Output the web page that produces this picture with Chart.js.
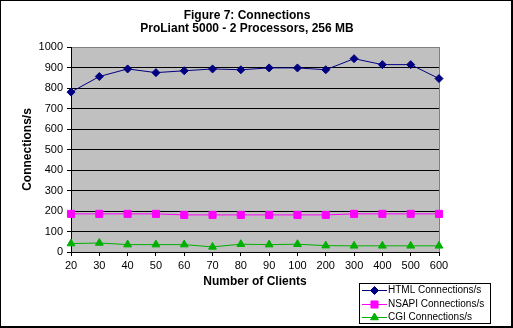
<!DOCTYPE html>
<html>
<head>
<meta charset="utf-8">
<script src="https://cdn.jsdelivr.net/npm/chart.js@4/dist/chart.umd.min.js"></script>
<style>
  html, body { margin: 0; padding: 0; background: #ffffff; }
  canvas { display: block; }
</style>
</head>
<body>
<canvas id="c" width="513" height="328"></canvas>
<script>
const titleLines = ['Figure 7: Connections', 'ProLiant 5000 - 2 Processors, 256 MB'];
const xTitle = 'Number of Clients';
const yTitle = 'Connections/s';
const categories = ['20','30','40','50','60','70','80','90','100','200','300','400','500','600'];
const htmlValues  = [780, 856, 893, 875, 884, 893, 889, 898, 898, 889, 943, 914, 914, 846];
const nsapiValues = [186, 186, 186, 186, 181, 181, 181, 181, 181, 181, 186, 186, 186, 186];
const cgiValues   = [41, 44, 36, 36, 36, 25, 38, 36, 38, 31, 30, 30, 30, 30];
const seriesNames = ['HTML Connections/s', 'NSAPI Connections/s', 'CGI Connections/s'];
const yMin = 0, yMax = 1000, yStep = 100;

const FONT = "'Liberation Sans', Arial, sans-serif";
Chart.defaults.font.family = FONT;
Chart.defaults.font.size = 11;
Chart.defaults.color = '#000000';

function drawMarker(ctx, style, x, y, r, color) {
  ctx.save();
  ctx.fillStyle = color;
  ctx.strokeStyle = color;
  ctx.lineWidth = 1;
  ctx.beginPath();
  if (style === 'rectRot') {
    ctx.moveTo(x, y - r); ctx.lineTo(x + r, y); ctx.lineTo(x, y + r); ctx.lineTo(x - r, y);
  } else if (style === 'rect') {
    const s = r * Math.SQRT1_2;
    ctx.rect(x - s, y - s, 2 * s, 2 * s);
  } else {
    ctx.moveTo(x, y - r); ctx.lineTo(x + r * 0.866, y + r * 0.5); ctx.lineTo(x - r * 0.866, y + r * 0.5);
  }
  ctx.closePath();
  ctx.fill();
  ctx.stroke();
  ctx.restore();
}

const framePlugin = {
  id: 'frame',
  beforeDraw(chart) {
    const {ctx, chartArea: a} = chart;
    ctx.save();
    ctx.fillStyle = '#ffffff';
    ctx.fillRect(0, 0, chart.width, chart.height);
    ctx.fillStyle = '#c0c0c0';
    ctx.fillRect(a.left, a.top, a.right - a.left, a.bottom - a.top);
    ctx.strokeStyle = '#808080';
    ctx.lineWidth = 1;
    ctx.strokeRect(Math.round(a.left) + 0.5, Math.round(a.top) + 0.5, Math.round(a.right - a.left), Math.round(a.bottom - a.top));
    ctx.restore();
  },
  afterDraw(chart) {
    const {ctx} = chart;
    const W = chart.width, H = chart.height;
    ctx.save();
    // outer border
    ctx.fillStyle = '#000000';
    ctx.fillRect(0, 0, W, 1);
    ctx.fillRect(0, 0, 1, H);
    ctx.fillRect(W - 2, 0, 2, H);
    ctx.fillRect(0, H - 2, W, 2);
    // title
    ctx.font = 'bold 12px ' + FONT;
    ctx.textAlign = 'center';
    ctx.textBaseline = 'middle';
    ctx.fillText(titleLines[0], 247, 16);
    ctx.fillText(titleLines[1], 247, 29);
    // legend
    const lx = 359, ly = 283, lw = 131, lh = 40;
    ctx.fillStyle = '#ffffff';
    ctx.fillRect(lx, ly, lw, lh);
    ctx.strokeStyle = '#000000';
    ctx.lineWidth = 1;
    ctx.strokeRect(lx + 0.5, ly + 0.5, lw, lh);
    ctx.font = '10px ' + FONT;
    ctx.textAlign = 'left';
    ctx.textBaseline = 'middle';
    chart.data.datasets.forEach((ds, i) => {
      const yy = ly + 7 + i * 13.5;
      ctx.strokeStyle = ds.borderColor;
      ctx.beginPath();
      ctx.moveTo(lx + 3, Math.round(yy) + 0.5);
      ctx.lineTo(lx + 28, Math.round(yy) + 0.5);
      ctx.stroke();
      drawMarker(ctx, ds.pointStyle, lx + 15.5, Math.round(yy) + 0.5, ds.pointRadius, ds.borderColor);
      ctx.fillStyle = '#000000';
      ctx.fillText(ds.label, lx + 29, yy + 0.5);
    });
    ctx.restore();
  }
};

new Chart(document.getElementById('c'), {
  type: 'line',
  data: {
    labels: categories,
    datasets: [
      { label: seriesNames[0], data: htmlValues, borderColor: '#000080', backgroundColor: '#000080',
        borderWidth: 1, pointStyle: 'rectRot', pointRadius: 4, pointBorderWidth: 1, tension: 0 },
      { label: seriesNames[1], data: nsapiValues, borderColor: '#ff00ff', backgroundColor: '#ff00ff',
        borderWidth: 1, pointStyle: 'rect', pointRadius: 5, pointBorderWidth: 1, tension: 0 },
      { label: seriesNames[2], data: cgiValues, borderColor: '#00b000', backgroundColor: '#00b000',
        borderWidth: 1, pointStyle: 'triangle', pointRadius: 4.5, pointBorderWidth: 1, tension: 0 }
    ]
  },
  options: {
    responsive: false,
    animation: false,
    devicePixelRatio: 1,
    layout: { padding: { top: 47, right: 74, left: 0, bottom: 0 } },
    plugins: { legend: { display: false }, title: { display: false }, tooltip: { enabled: false } },
    scales: {
      x: {
        offset: false,
        afterFit(s) { s.height = 76; },
        grid: { drawOnChartArea: false, tickLength: 4, color: '#000000', tickColor: '#000000' },
        border: { color: '#000000', width: 1 },
        ticks: { padding: 3, maxRotation: 0, autoSkip: false, font: { size: 11 } },
        title: { display: true, text: xTitle, font: { size: 12, weight: 'bold' }, padding: { top: 0, bottom: 39 } }
      },
      y: {
        min: yMin, max: yMax,
        afterFit(s) { s.width = 71; },
        grid: { tickLength: 4, tickColor: '#000000',
                color: (c) => (c.tick && c.tick.value === yMax) ? '#808080' : '#000000' },
        border: { color: '#000000', width: 1 },
        ticks: { stepSize: yStep, padding: 4, font: { size: 11 }, callback: (v) => String(v) },
        title: { display: true, text: yTitle, font: { size: 12, weight: 'bold' }, padding: { top: 20, bottom: 0 } }
      }
    }
  },
  plugins: [framePlugin]
});
</script>
</body>
</html>
